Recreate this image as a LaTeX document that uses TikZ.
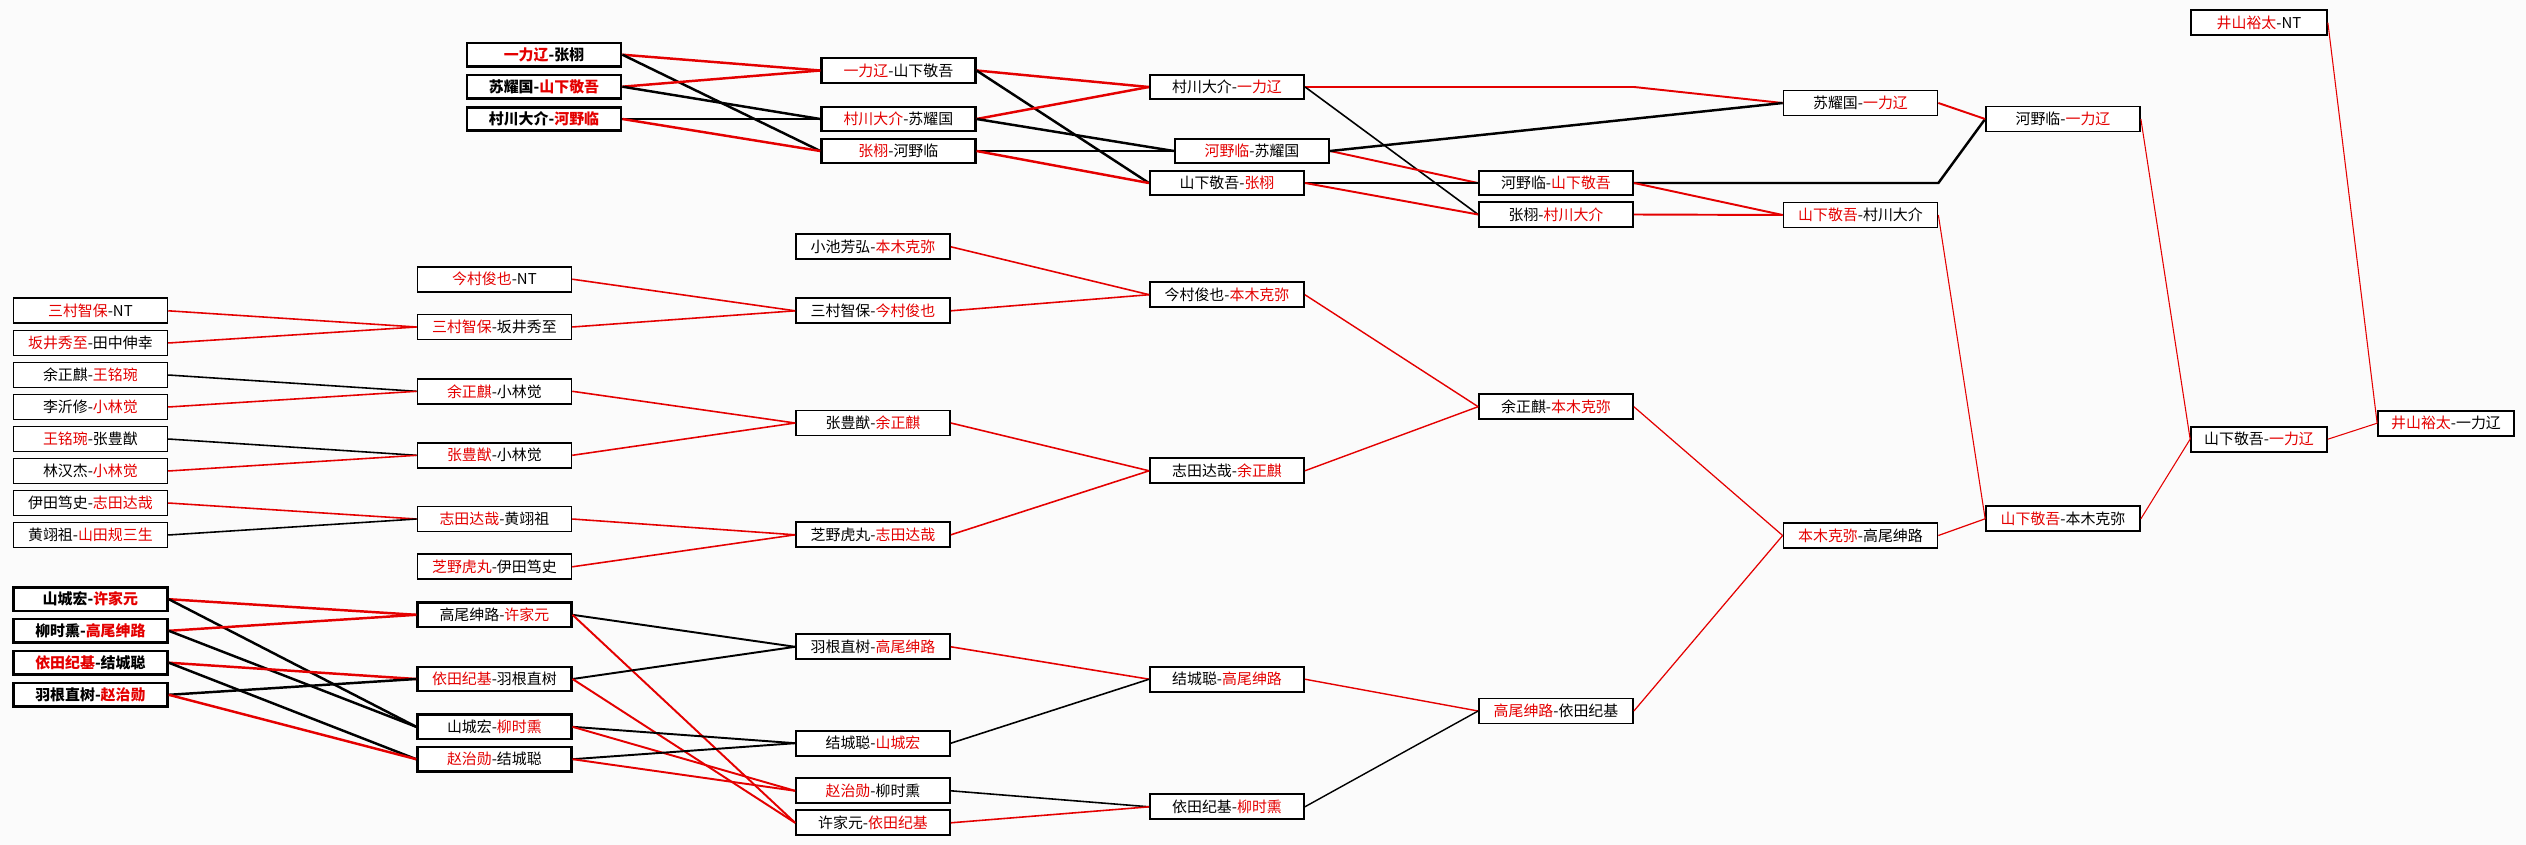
\documentclass[tikz,border=0pt]{standalone}
\usepackage{fontspec}
\setmainfont{Noto Sans CJK SC}
\definecolor{figRouge}{RGB}{228,0,0}
\definecolor{figFond}{RGB}{251,251,251}
\newcommand{\rouge}[1]{\textcolor{figRouge}{#1}}

\begin{document}
\begin{tikzpicture}[
  x=0.02cm, y=-0.02cm, every node/.style={font=\fontsize{8.5}{10}\selectfont},
  match/.style={draw=black, line width=1pt, fill=white, inner sep=0pt,
                minimum width=3.08cm, minimum height=0.5cm, align=center},
  matchM/.style={match, line width=1.3pt, minimum height=0.49cm},
  matchG/.style={match, line width=1.6pt, minimum height=0.47cm,
                 font=\fontsize{8.5}{10}\selectfont\bfseries},
  matchP/.style={match, minimum width=2.72cm},
  gagne/.style={draw=figRouge, line width=#1}, gagne/.default=1.4pt,
  perdu/.style={draw=black, line width=#1}, perdu/.default=1.4pt
]
\fill[figFond] (0,0) rectangle (2526,845);
\useasboundingbox (0,0) rectangle (2526,845);

% Groupe du haut
\node[matchG] (t11) at (544,54.7)  {\rouge{一力辽}-张栩};
\node[matchG] (t12) at (544,86.7)  {苏耀国-\rouge{山下敬吾}};
\node[matchG] (t13) at (544,119)   {村川大介-\rouge{河野临}};
\node[matchM] (t21) at (898.4,70.5) {\rouge{一力辽}-山下敬吾};
\node[matchM] (t22) at (898.4,119)  {\rouge{村川大介}-苏耀国};
\node[matchM] (t23) at (898.4,151)  {\rouge{张栩}-河野临};
\node[matchM] (t31) at (1227,87)    {村川大介-\rouge{一力辽}};
\node[matchM] (t32) at (1252,151)   {\rouge{河野临}-苏耀国};
\node[matchM] (t33) at (1227,183)   {山下敬吾-\rouge{张栩}};
\node[matchM] (t41) at (1556,183)   {河野临-\rouge{山下敬吾}};
\node[match] (t42) at (1556,214.5) {张栩-\rouge{村川大介}};
\node[match] (t51) at (1860.5,103) {苏耀国-\rouge{一力辽}};
\node[match] (t52) at (1860.5,215) {\rouge{山下敬吾}-村川大介};
\node[match] (t61) at (2063,119)   {河野临-\rouge{一力辽}};

% Finale
\node[matchP] (f0) at (2259,22.7)  {\rouge{井山裕太}-NT};
\node[matchP] (f1) at (2259,439.2) {山下敬吾-\rouge{一力辽}};
\node[matchP] (f2) at (2446,423.2) {\rouge{井山裕太}-一力辽};

% Groupe du milieu
\node[match] (m01) at (90.4,310.8) {\rouge{三村智保}-NT};
\node[match] (m02) at (90.4,343)   {\rouge{坂井秀至}-田中伸幸};
\node[match] (m03) at (90.4,375)   {余正麒-\rouge{王铭琬}};
\node[match] (m04) at (90.4,407)   {李沂修-\rouge{小林觉}};
\node[match] (m05) at (90.4,439)   {\rouge{王铭琬}-张豊猷};
\node[match] (m06) at (90.4,471)   {林汉杰-\rouge{小林觉}};
\node[match] (m07) at (90.4,503)   {伊田笃史-\rouge{志田达哉}};
\node[match] (m08) at (90.4,535)   {黄翊祖-\rouge{山田规三生}};
\node[match] (m11) at (494.4,279.2) {\rouge{今村俊也}-NT};
\node[match] (m12) at (494.4,327)   {\rouge{三村智保}-坂井秀至};
\node[match] (m13) at (494.4,391.3) {\rouge{余正麒}-小林觉};
\node[match] (m14) at (494.4,455.3) {\rouge{张豊猷}-小林觉};
\node[match] (m15) at (494.4,519)   {\rouge{志田达哉}-黄翊祖};
\node[match] (m16) at (494.4,566.8) {\rouge{芝野虎丸}-伊田笃史};
\node[match] (m21) at (873,246.8) {小池芳弘-\rouge{本木克弥}};
\node[match] (m22) at (873,310.8) {三村智保-\rouge{今村俊也}};
\node[match] (m23) at (873,423)   {张豊猷-\rouge{余正麒}};
\node[match] (m24) at (873,534.8) {芝野虎丸-\rouge{志田达哉}};
\node[match] (m31) at (1227,294.7) {今村俊也-\rouge{本木克弥}};
\node[match] (m32) at (1227,470.8) {志田达哉-\rouge{余正麒}};

\node[match] (r1) at (1556,406.7)   {余正麒-\rouge{本木克弥}};
\node[match] (r2) at (1860.5,535.5) {\rouge{本木克弥}-高尾绅路};
\node[match] (r3) at (2063,518.8)   {\rouge{山下敬吾}-本木克弥};
\node[match] (r4) at (1556,711)     {\rouge{高尾绅路}-依田纪基};

% Groupe du bas
\node[matchG] (b01) at (90.4,599.2) {山城宏-\rouge{许家元}};
\node[matchG] (b02) at (90.4,630.8) {柳时熏-\rouge{高尾绅路}};
\node[matchG] (b03) at (90.4,662.7) {\rouge{依田纪基}-结城聪};
\node[matchG] (b04) at (90.4,694.8) {羽根直树-\rouge{赵治勋}};
\node[matchM] (b11) at (494.4,614.8) {高尾绅路-\rouge{许家元}};
\node[matchM] (b12) at (494.4,679)   {\rouge{依田纪基}-羽根直树};
\node[matchM] (b13) at (494.4,726.8) {山城宏-\rouge{柳时熏}};
\node[matchM] (b14) at (494.4,759.2) {\rouge{赵治勋}-结城聪};
\node[match] (b21) at (873,646.8) {羽根直树-\rouge{高尾绅路}};
\node[match] (b22) at (873,743.2) {结城聪-\rouge{山城宏}};
\node[match] (b23) at (873,790.8) {\rouge{赵治勋}-柳时熏};
\node[match] (b24) at (873,822.8) {许家元-\rouge{依田纪基}};
\node[match] (b31) at (1227,679.2) {结城聪-\rouge{高尾绅路}};
\node[match] (b32) at (1227,806.8) {依田纪基-\rouge{柳时熏}};

% Liaisons : rouge pour le gagnant, noir pour le perdant
\draw[gagne] (t11.east) -- (t21.west);
\draw[perdu] (t11.east) -- (t23.west);
\draw[gagne] (t12.east) -- (t21.west);
\draw[perdu] (t12.east) -- (t22.west);
\draw[perdu] (t13.east) -- (t22.west);
\draw[gagne] (t13.east) -- (t23.west);
\draw[gagne] (t21.east) -- (t31.west);
\draw[perdu] (t21.east) -- (t33.west);
\draw[gagne] (t22.east) -- (t31.west);
\draw[perdu] (t22.east) -- (t32.west);
\draw[perdu] (t23.east) -- (t32.west);
\draw[gagne] (t23.east) -- (t33.west);
\draw[gagne=1.1pt] (t31.east) -- (t31.east -| t41.east) -- (t51.west);
\draw[perdu=0.9pt] (t31.east) -- (t42.west);
\draw[gagne=1.1pt] (t32.east) -- (t41.west);
\draw[perdu] (t32.east) -- (t51.west);
\draw[perdu] (t33.east) -- (t41.west);
\draw[gagne=1.1pt] (t33.east) -- (t42.west);
\draw[perdu] (t41.east) -- (t41.east -| t52.east) -- (t61.west);
\draw[gagne=1.1pt] (t41.east) -- (t52.west);
\draw[gagne=1.1pt] (t42.east) -- (t52.west);
\draw[gagne=1.1pt] (t51.east) -- (t61.west);
\draw[gagne=0.6pt] (t52.east) -- (r3.west);
\draw[gagne=0.6pt] (t61.east) -- (f1.west);
\draw[gagne=0.6pt] (f0.east) -- (f2.west);

\draw[gagne=0.9pt] (m01.east) -- (m12.west);
\draw[gagne=0.9pt] (m02.east) -- (m12.west);
\draw[perdu=0.9pt] (m03.east) -- (m13.west);
\draw[gagne=0.9pt] (m04.east) -- (m13.west);
\draw[perdu=0.9pt] (m05.east) -- (m14.west);
\draw[gagne=0.9pt] (m06.east) -- (m14.west);
\draw[gagne=0.9pt] (m07.east) -- (m15.west);
\draw[perdu=0.9pt] (m08.east) -- (m15.west);
\draw[gagne=0.9pt] (m11.east) -- (m22.west);
\draw[gagne=0.9pt] (m12.east) -- (m22.west);
\draw[gagne=0.9pt] (m13.east) -- (m23.west);
\draw[gagne=0.9pt] (m14.east) -- (m23.west);
\draw[gagne=0.9pt] (m15.east) -- (m24.west);
\draw[gagne=0.9pt] (m16.east) -- (m24.west);
\draw[gagne=0.9pt] (m21.east) -- (m31.west);
\draw[gagne=0.9pt] (m22.east) -- (m31.west);
\draw[gagne=0.9pt] (m23.east) -- (m32.west);
\draw[gagne=0.9pt] (m24.east) -- (m32.west);
\draw[gagne=0.8pt] (m31.east) -- (r1.west);
\draw[gagne=0.8pt] (m32.east) -- (r1.west);
\draw[gagne=0.7pt] (r1.east) -- (r2.west);
\draw[gagne=0.7pt] (r2.east) -- (r3.west);
\draw[gagne=0.6pt] (r3.east) -- (f1.west);
\draw[gagne=0.6pt] (f1.east) -- (f2.west);

\draw[gagne] (b01.east) -- (b11.west);
\draw[perdu] (b01.east) -- (b13.west);
\draw[gagne] (b02.east) -- (b11.west);
\draw[perdu] (b02.east) -- (b13.west);
\draw[gagne] (b03.east) -- (b12.west);
\draw[perdu] (b03.east) -- (b14.west);
\draw[perdu] (b04.east) -- (b12.west);
\draw[gagne] (b04.east) -- (b14.west);
\draw[perdu=1.1pt] (b11.east) -- (b21.west);
\draw[gagne=1.1pt] (b11.east) -- (b24.west);
\draw[perdu=1.1pt] (b12.east) -- (b21.west);
\draw[gagne=1.1pt] (b12.east) -- (b24.west);
\draw[perdu=1.1pt] (b13.east) -- (b22.west);
\draw[gagne=1.1pt] (b13.east) -- (b23.west);
\draw[perdu=1.1pt] (b14.east) -- (b22.west);
\draw[gagne=1.1pt] (b14.east) -- (b23.west);
\draw[gagne=0.9pt] (b21.east) -- (b31.west);
\draw[perdu=0.9pt] (b22.east) -- (b31.west);
\draw[perdu=0.9pt] (b23.east) -- (b32.west);
\draw[gagne=0.9pt] (b24.east) -- (b32.west);
\draw[gagne=0.8pt] (b31.east) -- (r4.west);
\draw[perdu=0.8pt] (b32.east) -- (r4.west);
\draw[gagne=0.7pt] (r4.east) -- (r2.west);
\end{tikzpicture}
\end{document}
